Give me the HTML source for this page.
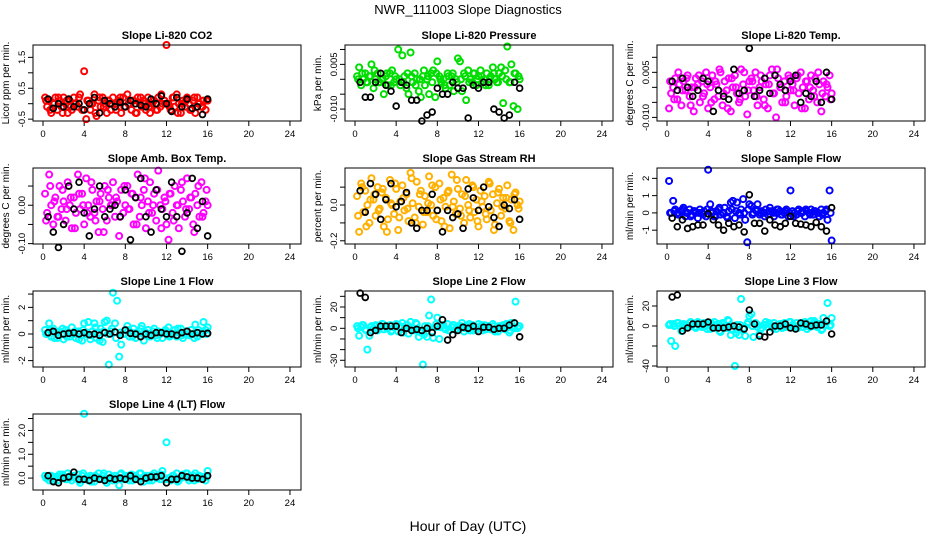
<!DOCTYPE html>
<html><head><meta charset="utf-8"><style>
html,body{margin:0;padding:0;background:#fff;}
svg{display:block;font-family:"Liberation Sans",Arial,sans-serif;}
</style></head><body>
<svg id="chart" width="936" height="540" viewBox="0 0 936 540">
<rect width="936" height="540" fill="#fff"/>
<text x="468" y="14" text-anchor="middle" font-size="13">NWR_111003  Slope Diagnostics</text>
<text x="468" y="531" text-anchor="middle" font-size="14">Hour of Day (UTC)</text>
</svg>
<script>
const xTicks = [0,4,8,12,16,20,24];

// Panel 1: CO2 (ppm/min)
const co2Color = [0.2,-0.1,0.1,-0.3,0.0,0.2,-0.2,0.1,-0.1,0.2,0.0,-0.3,0.1,-0.2,0.2,0.0,-0.1,0.3,-0.2,1.05,-0.5,0.1,-0.2,0.0,0.3,-0.4,0.1,-0.1,0.2,0.0,-0.3,0.1,-0.2,0.2,-0.1,0.0,0.1,-0.3,0.2,-0.1,0.3,0.0,-0.2,0.1,-0.3,0.2,0.0,-0.1,0.1,-0.2,0.2,-0.3,0.0,0.1,-0.2,0.2,-0.1,0.0,0.1,1.9,0.0,-0.2,0.2,-0.1,0.3,0.0,-0.3,0.1,-0.1,0.2,0.0,-0.2,0.1,-0.3,0.2,0.0,-0.1,0.1,-0.2,0.1];
const co2Color2 = [0.1,-0.2,0.0,0.2,-0.3,0.1,-0.1,0.0,0.2,-0.2,0.1,0.0,-0.3,0.2,-0.1,0.1,0.0,-0.2,0.2,-0.1,0.0,0.1,-0.3,0.2,0.0,-0.1,0.1,-0.2,0.3,0.0,-0.1,0.2,-0.3,0.0,0.1,-0.2,0.2,0.0,-0.1,0.1];
const co2Black = [0.15,-0.15,0.0,-0.1,0.15,-0.1,0.0,-0.2,0.0,0.2,-0.3,0.1,0.0,-0.1,0.05,-0.1,0.1,0.0,-0.05,-0.1,0.15,0.0,0.25,0.0,-0.25,0.2,-0.1,0.15,-0.15,-0.1,-0.35,0.15];
// Panel 2: pressure (units of 0.001 kPa/min)
const presColor = [1,4,-2,0,2,-1,1,5,-3,0,2,-1,0,-5,1,-2,2,3,-1,0,10,-2,8,1,-3,-5,9,-1,2,0,-4,-6,1,-2,0,-5,2,3,-6,6,1,-1,0,-3,2,-2,1,-4,0,7,6,-4,2,-7,3,0,-1,2,-2,1,3,-1,0,2,-2,1,4,0,-1,2,4,-8,3,11,-1,5,-9,2,-10,0];
const presColor2 = [0,2,-1,1,3,-1,0,2,-2,1,0,-1,2,1,-2,0,3,1,-1,2,0,-2,1,2,-1,0,1,-1,2,0,1,-2,0,2,-1,1,0,-1,2,1];
const presBlack = [-1,-6,-6,-1,2,-2,-4,-9,-1,-2,-7,-7,-14,-12,-11,-3,-5,-5,-1,-3,-3,-13,-2,-3,-1,-1,-10,-11,-13,-12,-1,-3];
// Panel 3: Li-820 temp (units of 0.001 C/min)
const tempColor = [-7,-2,0,3,-4,1,-6,2,-1,4,-3,0,-8,3,1,-5,2,-2,5,-7,0,4,-4,1,-3,5,-6,2,-1,3,-8,0,4,-2,-5,6,1,-3,-9,2,3,-1,5,-6,0,2,-4,1,-7,4,6,-2,-10,3,0,-5,2,-3,4,-1,1,-6,3,-2,5,0,-7,2,-4,4,-1,3,-5,1,-8,2,-3,0,4,-2];
const tempColor2 = [2,-4,5,-1,3,-6,0,4,-3,1,-5,2,6,-2,-7,3,0,-4,5,-1,2,-3,4,-6,1,-2,6,0,-5,3,-1,4,-7,2,0,-3,5,-2,1,-4];
const tempBlack = [2,-1,3,0,-3,-1,3,2,-8,-1,-3,-4,6,-2,-1,13,-3,-1,3,-2,4,1,-1,2,4,-5,-2,-3,2,-5,5,-4];
// Panel 4: amb box temp (units of 0.01 C/min)
const ambColor = [3,-2,8,0,-5,2,-3,5,-1,1,-4,6,0,-6,2,-2,8,-1,3,-5,7,0,-3,4,-2,1,-7,3,-1,5,-4,2,0,6,-3,1,-8,4,-2,0,5,-1,3,-5,2,8,-3,0,4,-6,1,6,-2,3,-4,9,0,-1,2,-5,-9,3,-2,5,0,-6,4,1,-3,7,-1,2,-5,3,0,-3,6,-2,1,0];
const ambColor2 = [-4,5,1,-3,4,-1,2,-6,3,0,-2,6,-4,1,-7,4,0,2,-3,5,-1,3,-5,2,7,-2,0,4,-6,1,3,-4,0,6,-1,2,-7,5,-3,4];
const ambBlack = [-3,-7,-11,-5,5,-1,6,-2,-8,-1,5,-3,-1,0,-3,4,-9,2,7,-3,-7,4,-1,-3,6,-3,-12,-2,7,-6,1,-8];
// Panel 5: RH (units of 0.01 %/min)
const rhColor = [5,-15,12,-4,8,0,-10,15,3,-6,10,-2,7,-12,4,-8,14,0,-5,9,-14,2,11,-3,6,-9,18,1,-7,13,-1,8,-11,5,-4,16,0,-6,10,-3,12,-9,4,-1,7,-13,17,2,-5,9,-2,6,-10,14,0,-7,11,-4,3,-12,8,-1,5,-8,13,-3,6,-11,1,9,-6,4,-2,11,-9,3,-14,7,0,2];
const rhColor2 = [-6,10,-12,3,6,-3,9,-15,1,12,-7,4,-2,15,-10,6,-4,1,11,-8,3,-12,8,-1,14,-6,5,-3,10,-9,2,-5,12,-14,7,-1,4,-10,6,-2];
const rhBlack = [8,-4,12,6,-8,3,12,-1,2,7,-10,-13,-3,-3,6,-3,-15,-3,-7,-5,-13,9,4,-3,10,-1,-7,-12,0,-2,3,-8];
// Panel 6: sample flow
const sfColor = [1.85,0.0,0.7,0.2,0.0,-0.1,0.1,0.3,-0.2,0.0,0.2,-0.1,0.1,0.0,-0.3,0.2,0.0,0.1,-0.2,2.5,0.5,0.0,-0.2,0.1,0.2,-0.1,0.0,0.3,-0.2,0.1,0.6,0.7,-0.3,0.6,0.0,0.2,0.8,-0.4,-1.7,0.5,0.4,0.0,0.2,0.5,-0.1,0.1,0.0,0.2,-0.1,0.3,0.1,-0.2,0.0,0.2,0.1,-0.1,0.0,0.2,-0.2,1.3,0.1,0.0,-0.1,0.2,0.0,0.1,-0.2,0.1,0.0,0.2,-0.1,0.1,0.0,-0.2,0.2,0.0,0.1,-0.4,1.3,-1.6];
const sfColor2 = [0.0,0.1,-0.1,0.2,0.0,-0.2,0.1,0.0,-0.1,0.2,0.1,-0.2,0.3,0.0,-0.3,0.2,0.1,-0.1,0.0,0.2,-0.1,0.1,0.0,-0.2,0.1,0.0,0.2,-0.1,0.1,0.0,-0.2,0.1,0.0,0.2,-0.1,0.1,0.0,-0.1,0.2,0.0];
const sfBlack = [-0.3,-0.8,-0.4,-0.9,-0.8,-0.7,-0.7,-0.05,-0.4,-0.7,-1.0,-0.6,-0.8,-0.7,-1.1,1.05,-0.6,-0.6,-1.05,-0.4,-0.7,-0.8,-0.6,-0.2,-0.6,-0.65,-0.7,-0.8,-0.55,-0.8,-1.05,0.3];
// Panel 7: line 1 flow
const l1Color = [0.3,0.0,0.8,-0.2,0.4,0.1,-0.3,0.2,0.0,-0.4,0.3,0.1,-0.2,0.5,0.0,-0.3,0.2,0.1,-0.5,0.8,0.0,0.9,-0.4,0.2,0.8,-0.3,0.1,0.4,-0.6,0.9,1.0,-2.3,0.2,3.1,0.8,2.5,-1.7,-0.8,0.0,0.3,0.6,-0.2,0.1,0.4,-0.3,0.0,0.2,0.6,-0.5,0.1,0.3,-0.2,0.0,0.4,-0.1,0.2,0.0,-0.3,0.1,0.2,0.5,-0.1,0.0,0.3,-0.2,0.1,0.4,-0.3,0.0,0.2,-0.1,0.3,0.0,0.7,-0.2,0.1,0.0,0.9,0.3,0.5];
const l1Color2 = [0.0,0.3,-0.3,0.1,0.4,-0.2,0.0,0.2,-0.4,0.3,0.1,-0.1,0.5,-0.5,0.2,0.0,0.4,-0.3,0.1,0.0,0.3,-0.2,0.1,0.4,-0.1,0.0,0.2,-0.3,0.1,0.3,-0.2,0.0,0.4,-0.1,0.2,0.0,-0.3,0.3,0.1,0.0];
const l1Black = [0.1,0.2,-0.1,0.0,0.05,0.1,0.0,0.1,-0.05,0.0,-0.1,0.1,0.0,0.15,-0.1,0.3,0.05,0.0,-0.2,0.0,-0.1,0.1,0.1,0.0,0.0,-0.1,0.1,0.2,0.0,0.1,0.0,0.05];
// Panel 8: line 2 flow
const l2Color = [2,-7,1,3,-1,-20,-7,2,0,3,-2,1,4,-1,2,0,3,-2,1,4,-3,2,5,-1,3,-5,6,0,-2,4,-8,-4,-34,2,-8,12,27,-9,1,10,-10,2,3,-1,4,-2,1,3,-1,2,0,5,-3,1,2,-2,3,0,-1,4,1,-2,3,0,2,-1,4,-3,1,2,0,3,-1,2,-4,5,1,25,0,2];
const l2Color2 = [0,3,-2,1,2,-1,4,0,-3,2,1,-4,3,0,5,-2,-6,2,-3,4,1,0,-2,3,-1,2,0,4,-2,1,3,-1,0,2,-3,1,4,-2,0,2];
const l2Black = [33,29,-4,-2,2,2,2,2,-4,0,-2,-1,-2,0,-4,2,8,-11,-6,-2,1,0,2,-3,1,1,-1,0,0,3,5,-8];
// Panel 9: line 3 flow
const l3Color = [1,-15,2,-20,3,0,-5,2,1,-1,3,0,2,-2,4,1,-1,3,0,2,-3,1,4,-2,2,-6,3,0,-2,5,-9,-4,-40,1,-9,27,-3,-10,2,10,12,-11,3,-1,-8,-2,1,4,-1,2,0,3,-3,1,2,-2,3,0,-1,4,1,-2,3,0,2,-1,4,-3,1,5,0,3,-1,2,-4,8,1,23,0,8];
const l3Color2 = [2,0,3,-2,1,4,-1,2,0,-3,3,1,-5,2,6,-3,-7,1,-2,4,0,2,-3,1,3,-2,0,2,-1,4,1,-2,3,0,-1,5,2,-3,4,1];
const l3Black = [29,31,-5,-2,2,2,2,4,-2,-2,-2,-1,0,-1,-3,16,2,-10,-11,-6,0,0,2,-2,-3,3,2,0,1,1,5,-8];
// Panel 10: line 4 flow
const l4Color = [0.1,0.0,-0.1,0.1,0.0,0.05,-0.1,0.15,0.0,0.1,-0.05,0.2,0.0,-0.1,0.1,0.0,0.15,-0.2,0.1,2.7,0.0,-0.1,0.1,0.05,-0.15,0.0,0.2,-0.05,0.1,0.0,-0.2,0.15,0.0,-0.1,0.1,0.0,-0.3,0.2,0.0,0.1,0.0,-0.1,0.15,0.0,0.1,-0.05,0.2,0.0,-0.15,0.1,0.0,0.1,-0.1,0.2,0.0,0.1,-0.05,0.3,0.0,1.5,0.0,-0.1,0.1,0.0,0.2,-0.1,0.0,0.15,0.05,0.2,-0.1,0.0,0.1,0.2,-0.05,0.1,0.0,0.05,-0.1,0.3];
const l4Color2 = [0.0,0.1,-0.1,0.05,0.15,-0.05,0.1,0.0,-0.1,0.2,0.05,-0.15,0.1,0.0,0.2,-0.1,0.05,0.0,0.15,-0.05,0.1,-0.1,0.0,0.2,0.05,-0.1,0.1,0.0,0.15,-0.05,0.0,0.1,-0.15,0.05,0.2,0.0,-0.1,0.1,0.0,0.05];
const l4Black = [0.1,-0.15,-0.2,0.0,0.05,0.25,-0.05,-0.05,-0.1,0.0,-0.05,-0.1,0.0,-0.05,0.0,-0.05,0.1,-0.05,-0.15,0.0,0.05,0.05,0.1,-0.2,-0.05,-0.05,0.1,0.05,0.0,0.0,-0.05,0.1];

const co2Ticks = [-0.5,0,0.5,1,1.5]; const co2Labels = ["-0.5","","0.5","","1.5"];
const presTicks = [-10,-5,0,5,10]; const presLabels = ["-0.010","","","0.005",""];
const tempTicks = [-10,-5,0,5,10]; const tempLabels = ["-0.010","","","0.005",""];
const ambTicks = [-10,-5,0,5]; const ambLabels = ["-0.10","","0.00",""];
const rhTicks = [-20,-10,0,10]; const rhLabels = ["-0.2","","0.0",""];
const sfTicks = [-1,0,1,2]; const sfLabels = ["-1","0","1","2"];
const l1Ticks = [-2,-1,0,1,2,3]; const l1Labels = ["-2","","0","","2",""];
const l2Ticks = [-30,-20,-10,0,10,20,30]; const l2Labels = ["-30","","","0","","20",""];
const l3Ticks = [-40,-20,0,20]; const l3Labels = ["-40","","0","20"];
const l4Ticks = [0,0.5,1,1.5,2,2.5]; const l4Labels = ["0.0","","1.0","","2.0",""];

const panels = [
 {name:"co2",title:"Slope Li-820 CO2",ylab:"Licor ppm per min.",col:0,row:0,dom:[-0.56,1.9],ticks:co2Ticks,labels:co2Labels,c:co2Color,c2:co2Color2,b:co2Black,color:"#ff0000"},
 {name:"pressure",title:"Slope Li-820 Pressure",ylab:"kPa per min.",col:1,row:0,dom:[-14,11.5],ticks:presTicks,labels:presLabels,c:presColor,c2:presColor2,b:presBlack,color:"#00dd00"},
 {name:"li820-temp",title:"Slope Li-820 Temp.",ylab:"degrees C per min.",col:2,row:0,dom:[-11.2,14.1],ticks:tempTicks,labels:tempLabels,c:tempColor,c2:tempColor2,b:tempBlack,color:"#ff00ff"},
 {name:"amb-box-temp",title:"Slope Amb. Box Temp.",ylab:"degrees C per min.",col:0,row:1,dom:[-10.1,9.7],ticks:ambTicks,labels:ambLabels,c:ambColor,c2:ambColor2,b:ambBlack,color:"#ff00ff"},
 {name:"gas-stream-rh",title:"Slope Gas Stream RH",ylab:"percent per min.",col:1,row:1,dom:[-21.8,20.7],ticks:rhTicks,labels:rhLabels,c:rhColor,c2:rhColor2,b:rhBlack,color:"#ffb000"},
 {name:"sample-flow",title:"Slope Sample Flow",ylab:"ml/min per min.",col:2,row:1,dom:[-1.8,2.6],ticks:sfTicks,labels:sfLabels,c:sfColor,c2:sfColor2,b:sfBlack,color:"#0000ff"},
 {name:"line1-flow",title:"Slope Line 1 Flow",ylab:"ml/min per min.",col:0,row:2,dom:[-2.48,3.23],ticks:l1Ticks,labels:l1Labels,c:l1Color,c2:l1Color2,b:l1Black,color:"#00ffff"},
 {name:"line2-flow",title:"Slope Line 2 Flow",ylab:"ml/min per min.",col:1,row:2,dom:[-36.3,35],ticks:l2Ticks,labels:l2Labels,c:l2Color,c2:l2Color2,b:l2Black,color:"#00ffff"},
 {name:"line3-flow",title:"Slope Line 3 Flow",ylab:"ml/min per min.",col:2,row:2,dom:[-41,35],ticks:l3Ticks,labels:l3Labels,c:l3Color,c2:l3Color2,b:l3Black,color:"#00ffff"},
 {name:"line4-flow",title:"Slope Line 4 (LT) Flow",ylab:"ml/min per min.",col:0,row:3,dom:[-0.5,2.69],ticks:l4Ticks,labels:l4Labels,c:l4Color,c2:l4Color2,b:l4Black,color:"#00ffff"}
];

const svg = document.getElementById('chart');
const NS = "http://www.w3.org/2000/svg";
function mk(tag, attrs, parent){ const e=document.createElementNS(NS,tag); for(const k in attrs) e.setAttribute(k,attrs[k]); parent.appendChild(e); return e; }

panels.forEach(p=>{
  const L = 33 + 312*p.col, T = 45 + 123*p.row, W = 268, H = 76;
  const xs = h => L + 10 + h*10.29;
  const ys = v => T + H - (v - p.dom[0])/(p.dom[1]-p.dom[0])*H;
  const g = mk('g',{},svg);
  
  
  const t = mk('text',{x:L+W/2,y:T-6,'text-anchor':'middle','font-size':'11','font-weight':'bold'},g);
  t.textContent = p.title;
  
  
  const yl = mk('text',{x:0,y:0,'text-anchor':'middle','font-size':'10',transform:`translate(${L-24},${T+H/2}) rotate(-90)`},g);
  yl.textContent = p.ylab;
  
  
  p.ticks.forEach((tv,i)=>{
    const y = ys(tv);
    const tk = mk('line',{x1:L-5,x2:L,y1:y,y2:y,stroke:'#000','stroke-width':1},g);
    
    
    if(p.labels[i]){
      const tl = mk('text',{x:0,y:0,'text-anchor':'middle','font-size':'9.5',transform:`translate(${L-8},${y}) rotate(-90)`},g);
      tl.textContent = p.labels[i];
      
      
    }
  });
  xTicks.forEach(h=>{
    const x = xs(h);
    const tk = mk('line',{x1:x,x2:x,y1:T+H,y2:T+H+5,stroke:'#000','stroke-width':1},g);
    
    
    const tl = mk('text',{x:x,y:T+H+16,'text-anchor':'middle','font-size':'9.5'},g);
    tl.textContent = String(h);
    
    
  });
  p.c.forEach((v,i)=>{
    const h = 0.2 + i*0.2;
    const c = mk('circle',{cx:xs(h),cy:ys(v),r:3,fill:'none',stroke:p.color,'stroke-width':2},g);
    
    
  });
  p.c2.forEach((v,i)=>{
    const h = 0.3 + i*0.4;
    const c = mk('circle',{cx:xs(h),cy:ys(v),r:3,fill:'none',stroke:p.color,'stroke-width':2},g);
    
    
  });
  p.b.forEach((v,i)=>{
    const h = 0.5 + i*0.5;
    const c = mk('circle',{cx:xs(h),cy:ys(v),r:2.9,fill:'none',stroke:'#000','stroke-width':1.8},g);
    
    
  });
  const box = mk('rect',{x:L,y:T,width:W,height:H,fill:'none',stroke:'#000','stroke-width':1},g);
  
  
});
</script>
</body></html>
